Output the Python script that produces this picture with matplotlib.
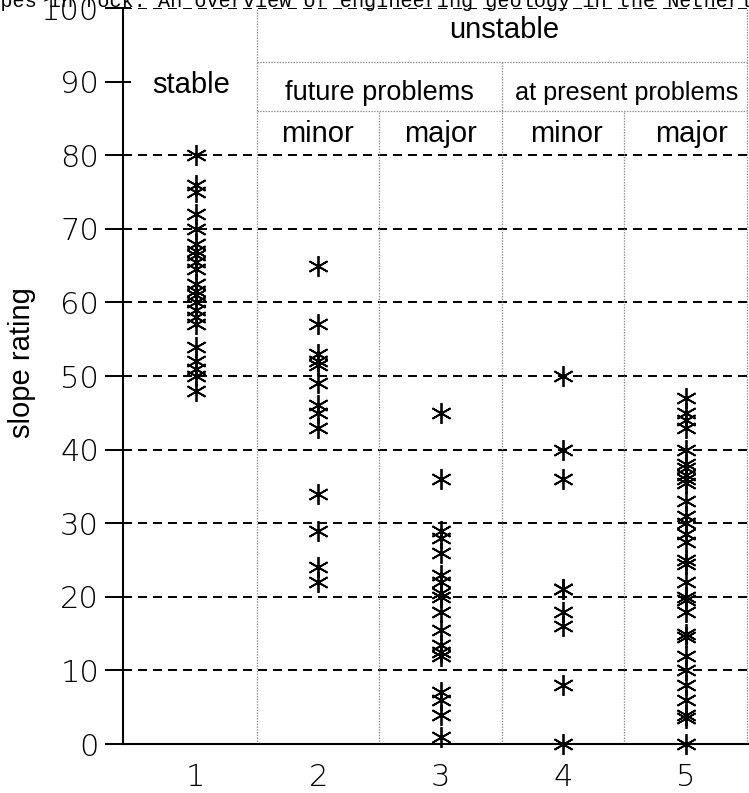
import matplotlib
matplotlib.use("Agg")
import matplotlib.pyplot as plt
from matplotlib.ticker import FixedLocator
from matplotlib import font_manager

plt.rcParams['lines.scale_dashes'] = False

# ---- data ----
categories = [1, 2, 3, 4, 5]
tick_labels = ["1", "2", "3", "4", "5"]
stable = [80, 76, 75, 72, 70, 68, 67, 66.5, 65.5, 64.5, 62.5, 61.5, 61, 60, 59, 58, 57,
          54, 52, 51, 50, 48]
future_minor = [65, 57, 53, 52, 51.5, 49, 46, 45, 43, 34, 29, 24, 22]
future_major = [45, 36, 29, 28, 26, 23, 22, 20.5, 20, 18, 15.5, 13.5, 12.5, 12, 7, 6, 4, 1]
present_minor = [50, 40, 36, 21, 21, 18, 16, 8, 0]
present_major = [47, 45, 44, 43, 40, 38, 37.5, 36.5, 36, 35.5, 33, 31, 30, 28.5, 27.5,
                 25, 24.5, 22, 20, 19.5, 18, 15, 14.5, 12, 10, 8, 6, 4, 3.5, 0]
series = [stable, future_minor, future_major, present_minor, present_major]

y_ticks = [0, 10, 20, 30, 40, 50, 60, 70, 80, 90, 100]
grid_levels = [10, 20, 30, 40, 50, 60, 70, 80, 100]

title = "Slopes in rock. An overview of engineering geology in the Netherlands"

names = {f.name for f in font_manager.fontManager.ttflist}
narrow = 'Liberation Sans Narrow' if 'Liberation Sans Narrow' in names else None

W, H = 749, 793
fig = plt.figure(figsize=(W / 100, H / 100), dpi=100)
ax = fig.add_axes([122.7 / W, 1 - 744 / H, 1 - 122.7 / W, (744 - 8) / H])
ax.set_xlim(0.404, 5.517)
ax.set_ylim(0, 100)

# dashed black gridlines
for g in grid_levels:
    ax.axhline(g, color='black', lw=1.4, ls=(0, (6.5, 4.3)), zorder=1)

# grey dotted cell lines
gk = dict(color='#888888', lw=0.9, ls=(0, (1, 1)), zorder=1)
ax.plot([1.5, 1.5], [0, 100], **gk)
ax.plot([5.5, 5.5], [0, 100], **gk)
ax.plot([3.5, 3.5], [0, 92.7], **gk)
ax.plot([2.5, 2.5], [0, 86], **gk)
ax.plot([4.5, 4.5], [0, 86], **gk)
ax.plot([1.5, 5.5], [92.7, 92.7], **gk)
ax.plot([1.5, 5.5], [86, 86], **gk)

# markers
for xc, vals in zip(categories, series):
    ax.plot([xc] * len(vals), vals, ls='none', marker=(6, 2, 0), ms=15, mew=1.3,
            color='black', clip_on=False, zorder=3)

# header texts
hf = dict(color='black', ha='center', va='baseline')
ax.text(0.96, 88.5, "stable", family='Liberation Sans', fontsize=21, **hf)
ax.text(3.52, 95.9, "unstable", family='Liberation Sans', fontsize=21, **hf)
if narrow:
    ax.text(2.50, 87.5, "future problems", family=narrow, fontsize=22.5, **hf)
    ax.text(4.515, 87.5, "at present problems", family=narrow, fontsize=22, **hf)
else:
    ax.text(2.50, 87.5, "future problems", family='Liberation Sans', fontsize=19.5, **hf)
    ax.text(4.515, 87.5, "at present problems", family='Liberation Sans', fontsize=18.2, **hf)
ax.text(1.99, 81.8, "minor", family='Liberation Sans', fontsize=21, **hf)
ax.text(3.00, 81.8, "major", family='Liberation Sans', fontsize=21, **hf)
ax.text(4.03, 81.8, "minor", family='Liberation Sans', fontsize=21, **hf)
ax.text(5.05, 81.8, "major", family='Liberation Sans', fontsize=21, **hf)

# spines
for s in ['top', 'right']:
    ax.spines[s].set_visible(False)
for s in ['left', 'bottom']:
    ax.spines[s].set_linewidth(1.5)
    ax.spines[s].set_zorder(2)

# ticks
ax.yaxis.remove_overlapping_locs = False
ax.yaxis.set_major_locator(FixedLocator(y_ticks))
ax.yaxis.set_minor_locator(FixedLocator(y_ticks))
ax.tick_params(axis='y', which='major', direction='out', length=13, width=1.4, pad=4,
               labelsize=22)
ax.tick_params(axis='y', which='minor', direction='in', length=6, width=1.4)
ax.set_xticks(categories)
ax.set_xticklabels(tick_labels)
ax.tick_params(axis='x', which='major', length=0, pad=14, labelsize=22)
for lab in ax.get_yticklabels() + ax.get_xticklabels():
    lab.set_family('DejaVu Sans')
    lab.set_fontweight('light')

fig.text(22 / W, 1 - 363 / H, "slope rating", family='Liberation Sans', fontsize=21,
         rotation=90, ha='center', va='center')

fig.text(-36.3 / W, 1 - 7 / H, title, family='Liberation Mono', fontsize=14.5,
         ha='left', va='baseline')

fig.savefig("out.png", dpi=100)
